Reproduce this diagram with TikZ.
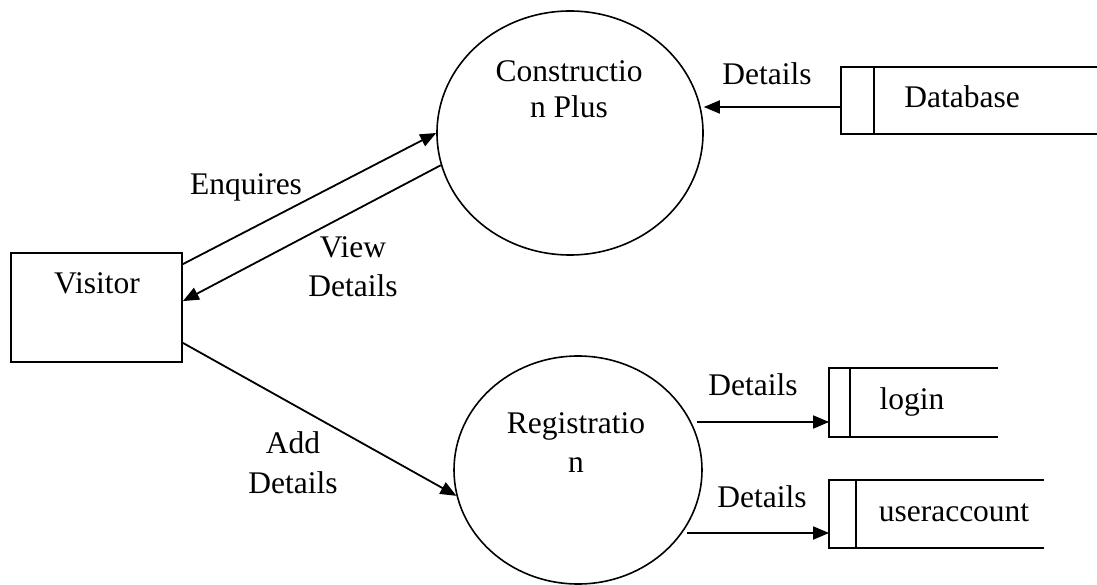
\documentclass[tikz,border=0pt]{standalone}
\usepackage{fontspec}
\setmainfont{Liberation Serif}
\usetikzlibrary{arrows.meta,shapes.geometric,calc}
\begin{document}
\begin{tikzpicture}[x=1pt,y=-1pt,line width=1.8pt,
  lbl/.style={font=\fontsize{31.5pt}{36pt}\selectfont,inner sep=0pt,anchor=base},
  proc/.style={draw,ellipse,inner sep=0pt,line width=1.6pt},
  entity/.style={draw,rectangle,inner sep=0pt},
  store/.style={rectangle,inner sep=0pt},
  arr/.style={-{Triangle[length=16pt,width=13pt]}}]
\useasboundingbox (0,0) rectangle (1097,585);

% processes
\node[proc,minimum width=266pt,minimum height=244pt] (cp) at (570,133) {};
\node[lbl] (cpt1) at (569,82) {Constructio};
\node[lbl] (cpt2) at (569,118) {n Plus};

\node[proc,minimum width=248pt,minimum height=228pt] (reg) at (578,470) {};
\node[lbl] (regt1) at (576,433) {Registratio};
\node[lbl] (regt2) at (576,472) {n};

% external entity
\node[entity,minimum width=171pt,minimum height=109pt] (vis) at (96.5,307.5) {};
\node[lbl] (vist) at (97,293) {Visitor};

% data stores
\node[store,minimum width=255pt,minimum height=65pt] (db) at (969.5,100.5) {};
\draw (db.north east) -- (db.north west) -- (db.south west) -- (db.south east);
\draw ([xshift=33pt]db.north west) -- ([xshift=33pt]db.south west);
\node[lbl] (dbt) at (962,108) {Database};

\node[store,minimum width=167pt,minimum height=67pt] (login) at (913.5,402.5) {};
\draw (login.north east) -- (login.north west) -- (login.south west) -- (login.south east);
\draw ([xshift=21pt]login.north west) -- ([xshift=21pt]login.south west);
\node[lbl] (logint) at (912,409) {login};

\node[store,minimum width=213pt,minimum height=66pt] (ua) at (936.5,514) {};
\draw (ua.north east) -- (ua.north west) -- (ua.south west) -- (ua.south east);
\draw ([xshift=27pt]ua.north west) -- ([xshift=27pt]ua.south west);
\node[lbl] (uat) at (954,521) {useraccount};

% flows
\draw[arr] ([yshift=-12pt]vis.north east) -- (cp.west);
\node[lbl] (enq) at (246,195) {Enquires};

\draw[arr] (cp.194) -- ([yshift=-49pt]vis.north east);
\node[lbl] (vd1) at (353,258) {View};
\node[lbl] (vd2) at (353,296) {Details};

\draw[arr] ([yshift=20pt]vis.south east) -- (reg.192);
\node[lbl] (ad1) at (293,453) {Add};
\node[lbl] (ad2) at (293,493) {Details};

\draw[arr] ([yshift=-6.5pt]db.west) -- ([yshift=-6.5pt]db.west -| cp.east);
\node[lbl] (dbl) at (767,85) {Details};

\coordinate (l1) at (697,422);
\draw[arr] (l1) -- (l1 -| login.west);
\node[lbl] (ll) at (753,395) {Details};

\coordinate (u1) at (687,533);
\draw[arr] (u1) -- (u1 -| ua.west);
\node[lbl] (ul) at (762,507) {Details};
\end{tikzpicture}
\end{document}
